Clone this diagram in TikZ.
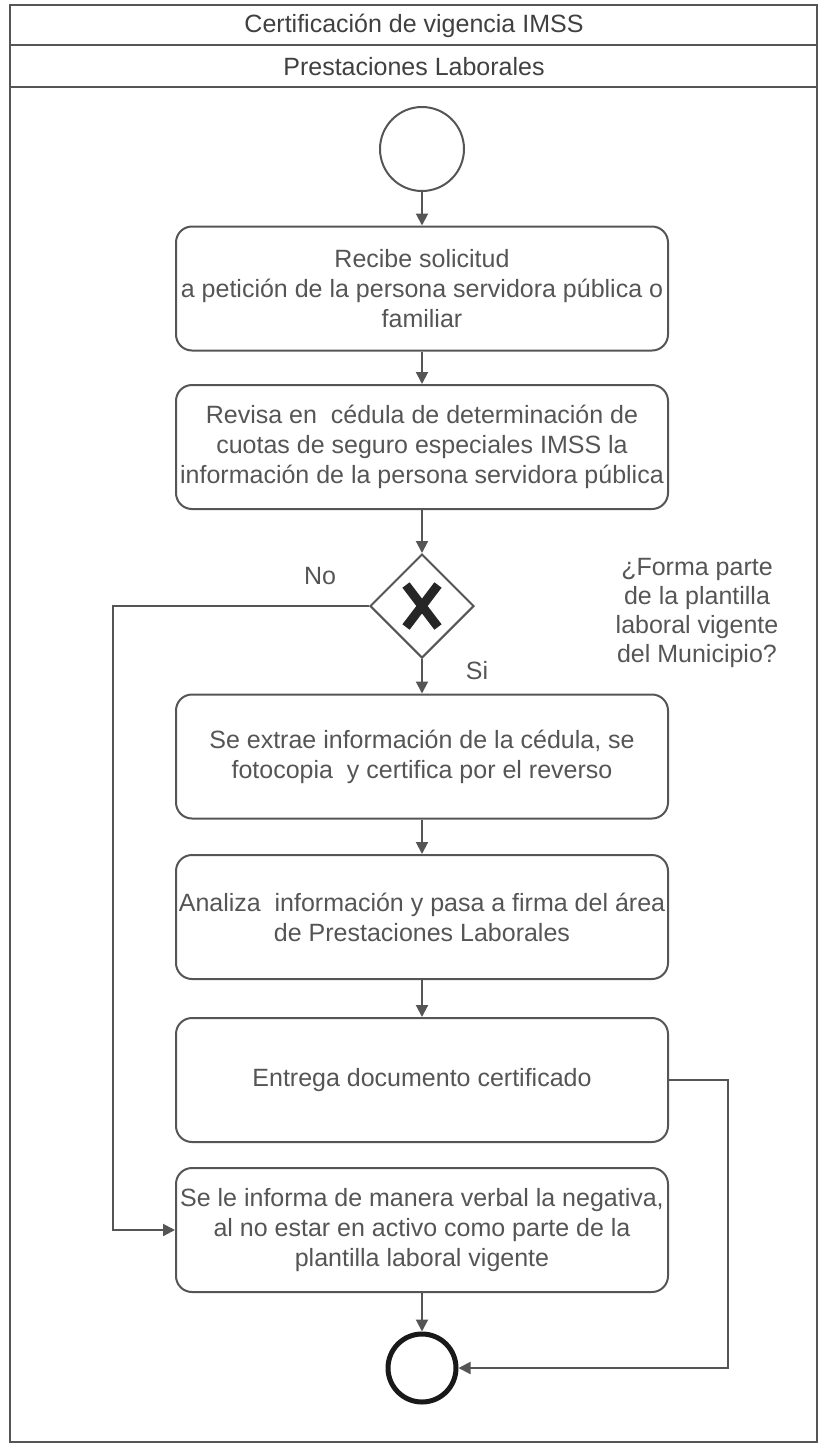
\documentclass[tikz,border=0pt]{standalone}
\usepackage{fontspec}
\setmainfont{Liberation Sans}
\usetikzlibrary{shapes.geometric,arrows.meta}
\definecolor{ln}{HTML}{555555}
\definecolor{tx}{HTML}{555555}
\begin{document}
\begin{tikzpicture}[x=1pt,y=-1pt,
  stepbox/.style={draw=ln,line width=2pt,rounded corners=16pt,minimum width=492pt,minimum height=124pt,
     align=center,inner sep=2pt,text=tx,font=\fontsize{25}{30}\selectfont},
  lbl/.style={text=tx,font=\fontsize{25}{29}\selectfont,align=center,inner sep=0pt},
  conn/.style={draw=ln,line width=2pt,-{Triangle[width=12pt,length=12pt]},shorten >=0pt},
  plain/.style={draw=ln,line width=2pt}]
\useasboundingbox (0,0) rectangle (820,1449);
% frame
\draw[plain] (10,5) rectangle (817,1442);
\draw[plain] (10,45) -- (817,45);
\draw[plain] (10,87) -- (817,87);
\node[lbl,text=black!75] (t1) at (414,26) {Certificación de vigencia IMSS};
\node[lbl,text=black!75] (t2) at (414,67) {Prestaciones Laborales};
% nodes
\node[circle,draw=ln,line width=2pt,minimum size=84pt,inner sep=0pt] (st) at (422,149) {};
\node[stepbox] (b1) at (422,288.5) {Recibe solicitud\\ a petición de la persona servidora pública o\\ familiar};
\node[stepbox] (b2) at (422,447) {Revisa en \ cédula de determinación de\\ cuotas de seguro especiales IMSS la\\ información de la persona servidora pública};
\node[diamond,draw=ln,line width=2pt,minimum width=104pt,minimum height=104pt,inner sep=0pt] (dia) at (422,606) {};
\draw[line width=9pt,black!85] (406,585) -- (438,627);
\draw[line width=9pt,black!85] (438,585) -- (406,627);
\node[stepbox] (b3) at (422,756.5) {Se extrae información de la cédula, se\\ fotocopia \ y certifica por el reverso};
\node[stepbox] (b4) at (422,917) {Analiza \ información y pasa a firma del área\\ de Prestaciones Laborales};
\node[stepbox] (b5) at (422,1080) {Entrega documento certificado};
\node[stepbox] (b6) at (422,1230) {Se le informa de manera verbal la negativa,\\ al no estar en activo como parte de la\\ plantilla laboral vigente};
\node[circle,draw=black!90,line width=5pt,minimum size=68pt,inner sep=0pt] (en) at (422,1368) {};
% labels
\node[lbl] (no) at (320,576) {No};
\node[lbl] (si) at (477,671) {Si};
\node[lbl] (q) at (697,613) {¿Forma parte\\ de la plantilla\\ laboral vigente\\ del Municipio?};
% connectors
\coordinate (nl) at (113,606);
\coordinate (rr) at (728,1080);
\draw[conn] (st) -- (b1);
\draw[conn] (b1) -- (b2);
\draw[conn] (b2) -- (dia);
\draw[conn] (dia) -- (b3);
\draw[conn] (b3) -- (b4);
\draw[conn] (b4) -- (b5);
\draw[conn] (b6) -- (en);
\draw[conn] (dia.west) -- (nl) |- (b6.west);
\draw[conn] (b5.east) -- (rr) |- (en.east);
\end{tikzpicture}
\end{document}
